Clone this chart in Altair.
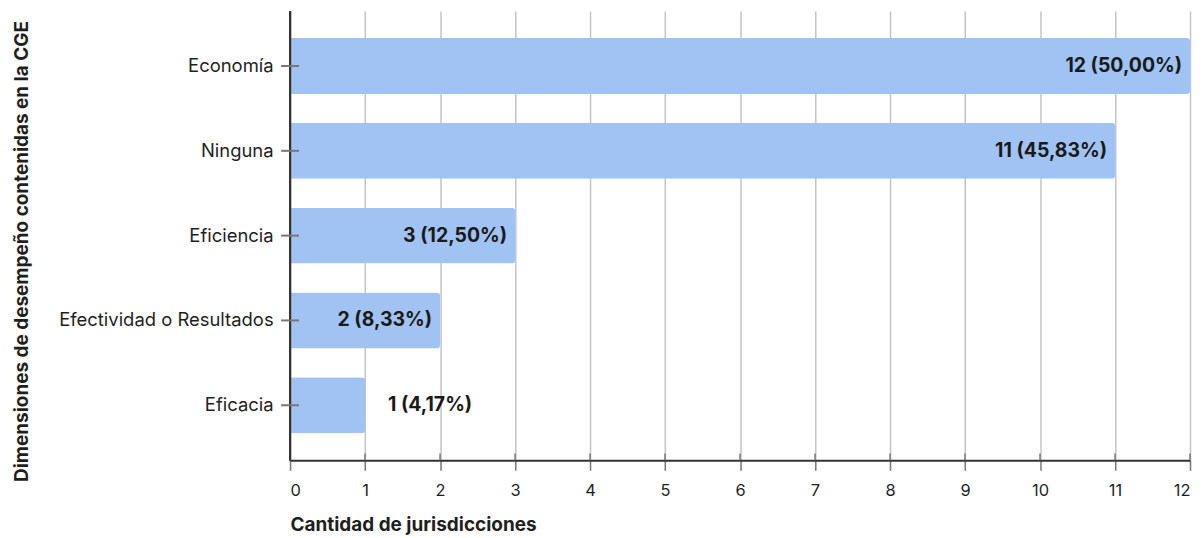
import altair as alt
import pandas as pd

categories = ["Economía", "Ninguna", "Eficiencia", "Efectividad o Resultados", "Eficacia"]
values = [12, 11, 3, 2, 1]
labels = ["12 (50,00%)", "11 (45,83%)", "3 (12,50%)", "2 (8,33%)", "1 (4,17%)"]
x_ticks = list(range(0, 13))

df = pd.DataFrame({"cat": categories, "value": values, "label": labels})

FONT = "Inter"
W, H = 903, 451

y_enc = alt.Y(
    "cat:N",
    sort=categories,
    scale=alt.Scale(paddingInner=0.34, paddingOuter=0.32),
    axis=alt.Axis(
        title="Dimensiones de desempeño contenidas en la CGE",
        titleFont=FONT, titleFontSize=19, titleFontWeight="bold", titleColor="#1f1f1f",
        titleAngle=270, titleBaseline="middle", titleAlign="center",
        titleX=-269, titleY=241,
        labelFont=FONT, labelFontSize=18.5, labelColor="#1f1f1f", labelPadding=17,
        labelLimit=400,
        ticks=False, domain=False, grid=False,
    ),
)

x_enc = alt.X(
    "value:Q",
    scale=alt.Scale(domain=[0, 12], nice=False),
    axis=alt.Axis(
        values=x_ticks, format="d",
        title="Cantidad de jurisdicciones",
        titleFont=FONT, titleFontSize=19, titleFontWeight="bold", titleColor="#1f1f1f",
        titleAnchor="start", titleAlign="left", titleBaseline="middle", titleY=64,
        labelFont=FONT, labelFontSize=16.5, labelColor="#1f1f1f", labelPadding=12,
        grid=True, gridColor="#c4c4c4", gridWidth=1.5,
        domainColor="#333333", domainWidth=2,
        tickColor="#777777", tickSize=10, tickWidth=1.5,
    ),
)

base = alt.Chart(df)

bars = base.mark_bar(color="#A0C3F3", cornerRadiusEnd=3).encode(y=y_enc, x=x_enc)

yline = base.mark_rule(color="#333333", strokeWidth=2).encode(
    x=alt.value(0), y=alt.value(0), y2=alt.value(H)
)

yticks = base.mark_rule(color="#777777", strokeWidth=2).encode(
    y=alt.Y("cat:N", sort=categories), x=alt.value(-9), x2=alt.value(9)
)

xtick_df = pd.DataFrame({"t": x_ticks})
xticks_up = alt.Chart(xtick_df).mark_rule(color="#777777", strokeWidth=1.5).encode(
    x=alt.X("t:Q"), y=alt.value(H - 7), y2=alt.value(H)
)

text_in = base.transform_filter(alt.datum.value >= 2).mark_text(
    align="right", baseline="middle", dx=-8, font=FONT, fontSize=19.5,
    fontWeight="bold", color="#1a1a1a"
).encode(y=alt.Y("cat:N", sort=categories), x="value:Q", text="label:N")

text_out = base.transform_filter(alt.datum.value < 2).mark_text(
    align="left", baseline="middle", dx=23, font=FONT, fontSize=19.5,
    fontWeight="bold", color="#1a1a1a"
).encode(y=alt.Y("cat:N", sort=categories), x="value:Q", text="label:N")

chart = alt.layer(bars, xticks_up, yline, yticks, text_in, text_out).properties(
    width=W, height=H,
    padding={"left": 4, "top": 1, "right": 5, "bottom": 5},
).configure_view(stroke=None)

chart.save("out.html", embed_options={"renderer": "svg", "actions": False})
